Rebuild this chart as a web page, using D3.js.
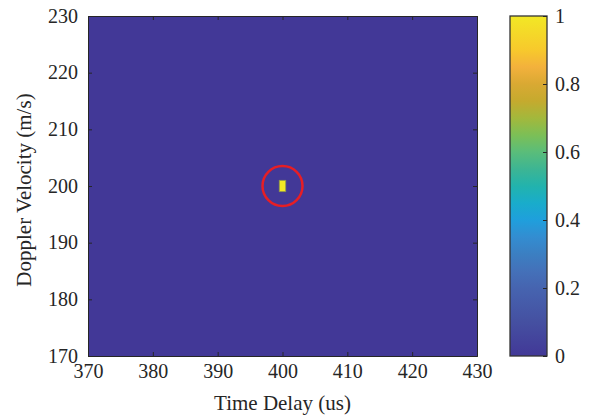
<!DOCTYPE html>
<html>
<head>
<meta charset="utf-8">
<script src="https://cdn.jsdelivr.net/npm/d3@7"></script>
<style>
  body { margin: 0; background: #fff; }
  text { font-family: "Liberation Serif", "Times New Roman", serif; fill: #262626; }
</style>
</head>
<body>
<div id="chart"></div>
<script>
// axis ranges and ticks
const delayDomain = [370, 430];
const velocityDomain = [170, 230];
const delayTicks = [370, 380, 390, 400, 410, 420, 430];
const velocityTicks = [170, 180, 190, 200, 210, 220, 230];
const colorTicks = [0, 0.2, 0.4, 0.6, 0.8, 1];

// ambiguity map: background level plus the one non-zero cell
const backgroundValue = 0;
const peakDelays = [400];      // cell centre (us)
const peakVelocities = [200];  // cell centre (m/s)
const peakValues = [1];
const cellDelayStep = 1;
const cellVelocityStep = 2;

// marked target
const markDelay = 400;
const markVelocity = 200;

// colormap stops as they look in the picture
const cmapStops = [0, 0.1, 0.2, 0.25, 0.3, 0.35, 0.4, 0.45, 0.5, 0.55, 0.6, 0.65, 0.7, 0.75, 0.8, 0.85, 0.9, 1];
const cmapColors = ["#423897", "#4550a1", "#4664b0", "#4471b9", "#3b7fc2", "#338dd1", "#1f9fdc", "#19accb",
                    "#22b3ad", "#3db593", "#5abd7a", "#7cbf56", "#a3b83c", "#c5aa2e", "#d9a933", "#f3b13c",
                    "#f7c92c", "#f2e825"];

const width = 598, height = 417;
const plot = { left: 88, right: 477, top: 16, bottom: 356 };
const bar = { left: 510, right: 547 };
const tickFont = 20, labelFont = 21;

const svg = d3.select("#chart").append("svg")
    .attr("width", width)
    .attr("height", height);

const x = d3.scaleLinear().domain(delayDomain).range([plot.left, plot.right]);
const y = d3.scaleLinear().domain(velocityDomain).range([plot.bottom, plot.top]);
const color = d3.scaleLinear().domain(cmapStops).range(cmapColors).clamp(true);

// background
svg.append("rect")
    .attr("x", x(delayDomain[0]))
    .attr("y", y(velocityDomain[1]))
    .attr("width", x(delayDomain[1]) - x(delayDomain[0]))
    .attr("height", y(velocityDomain[0]) - y(velocityDomain[1]))
    .attr("fill", color(backgroundValue));

// peak cells
const cells = peakDelays.map((d, i) => ({ delay: d, velocity: peakVelocities[i], value: peakValues[i] }));
svg.selectAll(".cell")
    .data(cells)
    .enter().append("rect")
    .attr("class", "cell")
    .attr("x", d => x(d.delay - cellDelayStep / 2))
    .attr("y", d => y(d.velocity + cellVelocityStep / 2))
    .attr("width", d => x(d.delay + cellDelayStep / 2) - x(d.delay - cellDelayStep / 2))
    .attr("height", d => y(d.velocity - cellVelocityStep / 2) - y(d.velocity + cellVelocityStep / 2))
    .attr("fill", d => color(d.value))
    .attr("stroke", "#8c9450")
    .attr("stroke-width", 0.8);

// red circle around the target
svg.append("circle")
    .attr("cx", x(markDelay))
    .attr("cy", y(markVelocity))
    .attr("r", 20)
    .attr("fill", "none")
    .attr("stroke", "#e61e25")
    .attr("stroke-width", 2.5);

// axes (matlab style, ticks pointing in, box on)
const bottomAxis = svg.append("g")
    .attr("transform", `translate(0,${plot.bottom})`)
    .call(d3.axisBottom(x).tickValues(delayTicks).tickSize(-4).tickPadding(8).tickFormat(d3.format("d")));
const topAxis = svg.append("g")
    .attr("transform", `translate(0,${plot.top})`)
    .call(d3.axisTop(x).tickValues(delayTicks).tickSize(-4).tickFormat(""));
const leftAxis = svg.append("g")
    .attr("transform", `translate(${plot.left},0)`)
    .call(d3.axisLeft(y).tickValues(velocityTicks).tickSize(-4).tickPadding(10).tickFormat(d3.format("d")));
const rightAxis = svg.append("g")
    .attr("transform", `translate(${plot.right},0)`)
    .call(d3.axisRight(y).tickValues(velocityTicks).tickSize(-4).tickFormat(""));

[bottomAxis, topAxis, leftAxis, rightAxis].forEach(g => {
    g.select(".domain").attr("stroke", "#262626").attr("stroke-width", 1);
    g.selectAll(".tick line").attr("stroke", "#262626");
    g.selectAll("text")
        .attr("font-family", "Liberation Serif, serif")
        .attr("font-size", tickFont)
        .attr("fill", "#262626");
});
bottomAxis.selectAll("text").attr("dy", "0.72em");
leftAxis.selectAll("text").attr("dy", "0.3em");

// axis labels
svg.append("text")
    .attr("x", x(400))
    .attr("y", 410)
    .attr("text-anchor", "middle")
    .attr("font-size", labelFont)
    .text("Time Delay (us)");

svg.append("text")
    .attr("transform", "translate(31,190) rotate(-90)")
    .attr("text-anchor", "middle")
    .attr("font-size", labelFont)
    .text("Doppler Velocity (m/s)");

// colorbar
const cb = d3.scaleLinear().domain([0, 1]).range([plot.bottom, plot.top]);
const defs = svg.append("defs");
const grad = defs.append("linearGradient")
    .attr("id", "cmap")
    .attr("x1", 0).attr("y1", 1).attr("x2", 0).attr("y2", 0);
cmapStops.forEach((s, i) => {
    grad.append("stop").attr("offset", s).attr("stop-color", cmapColors[i]);
});

svg.append("rect")
    .attr("x", bar.left)
    .attr("y", plot.top)
    .attr("width", bar.right - bar.left)
    .attr("height", plot.bottom - plot.top)
    .attr("fill", "url(#cmap)")
    .attr("stroke", "#333")
    .attr("stroke-width", 1.3);

const cbAxis = svg.append("g")
    .attr("transform", `translate(${bar.right},0)`)
    .call(d3.axisRight(cb).tickValues(colorTicks).tickSize(-4).tickPadding(8).tickFormat(d => d === 0 || d === 1 ? d : d3.format(".1f")(d)));
cbAxis.select(".domain").remove();
cbAxis.selectAll(".tick line").attr("stroke", "#262626");
cbAxis.selectAll("text")
    .attr("font-family", "Liberation Serif, serif")
    .attr("font-size", tickFont)
    .attr("fill", "#262626")
    .attr("dy", "0.3em");
</script>
</body>
</html>
